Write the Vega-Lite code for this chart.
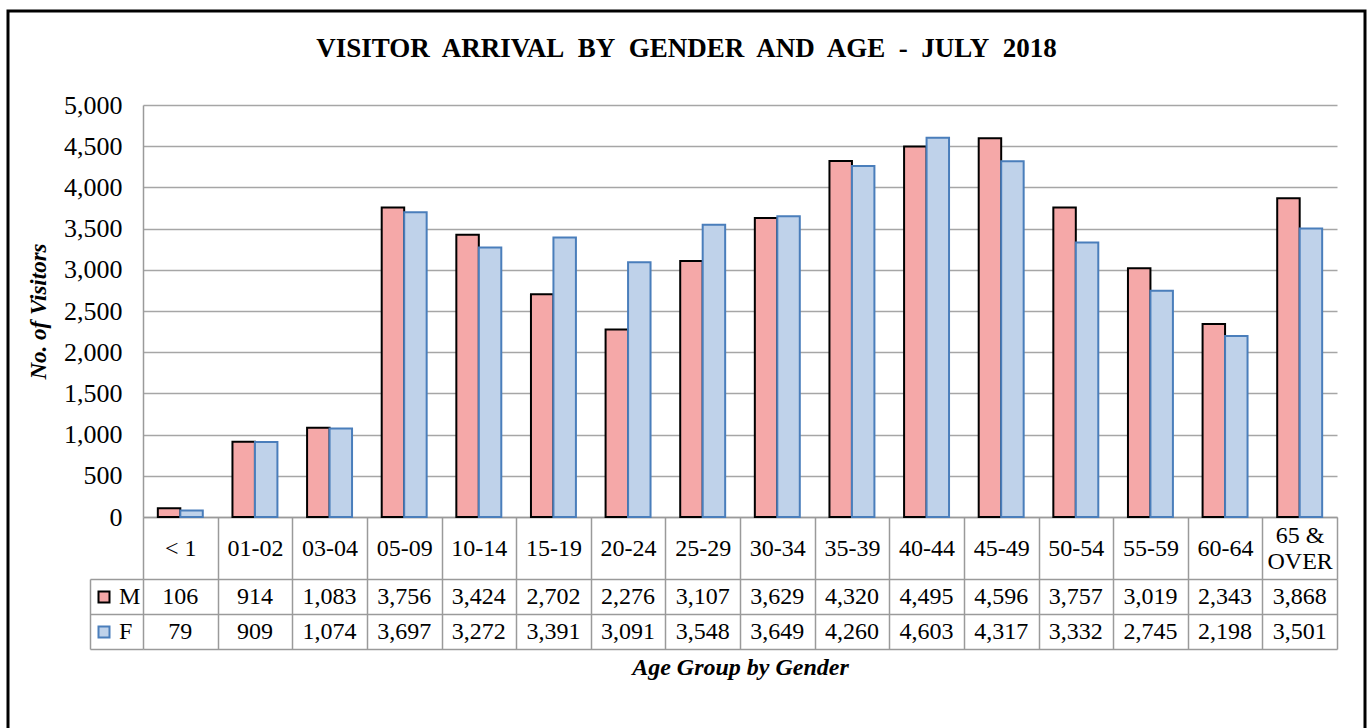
{
  "$schema": "https://vega.github.io/schema/vega-lite/v6.json",
  "autosize": {"type": "none"},
  "padding": {"left": 8, "top": 11, "right": 5, "bottom": 0},
  "width": 1357,
  "height": 720,
  "background": "white",
  "title": {"text": "VISITOR\u00a0 ARRIVAL\u00a0 BY\u00a0 GENDER\u00a0 AND\u00a0 AGE\u00a0 -\u00a0 JULY\u00a0 2018", "font": "Liberation Serif", "fontSize": 27, "fontWeight": "bold", "color": "black", "anchor": "middle", "frame": "group", "offset": -52},
  "config": {
    "font": "Liberation Serif",
    "view": {"stroke": "black", "strokeWidth": 3},
    "axis": {"labelFont": "Liberation Serif", "titleFont": "Liberation Serif", "labelColor": "black", "titleColor": "black"},
    "legend": {"labelFont": "Liberation Serif"}
  },
  "data": {
    "values": [
      {"age": "< 1", "gender": "M", "visitors": 106},
      {"age": "01-02", "gender": "M", "visitors": 914},
      {"age": "03-04", "gender": "M", "visitors": 1083},
      {"age": "05-09", "gender": "M", "visitors": 3756},
      {"age": "10-14", "gender": "M", "visitors": 3424},
      {"age": "15-19", "gender": "M", "visitors": 2702},
      {"age": "20-24", "gender": "M", "visitors": 2276},
      {"age": "25-29", "gender": "M", "visitors": 3107},
      {"age": "30-34", "gender": "M", "visitors": 3629},
      {"age": "35-39", "gender": "M", "visitors": 4320},
      {"age": "40-44", "gender": "M", "visitors": 4495},
      {"age": "45-49", "gender": "M", "visitors": 4596},
      {"age": "50-54", "gender": "M", "visitors": 3757},
      {"age": "55-59", "gender": "M", "visitors": 3019},
      {"age": "60-64", "gender": "M", "visitors": 2343},
      {"age": "65 & OVER", "gender": "M", "visitors": 3868},
      {"age": "< 1", "gender": "F", "visitors": 79},
      {"age": "01-02", "gender": "F", "visitors": 909},
      {"age": "03-04", "gender": "F", "visitors": 1074},
      {"age": "05-09", "gender": "F", "visitors": 3697},
      {"age": "10-14", "gender": "F", "visitors": 3272},
      {"age": "15-19", "gender": "F", "visitors": 3391},
      {"age": "20-24", "gender": "F", "visitors": 3091},
      {"age": "25-29", "gender": "F", "visitors": 3548},
      {"age": "30-34", "gender": "F", "visitors": 3649},
      {"age": "35-39", "gender": "F", "visitors": 4260},
      {"age": "40-44", "gender": "F", "visitors": 4603},
      {"age": "45-49", "gender": "F", "visitors": 4317},
      {"age": "50-54", "gender": "F", "visitors": 3332},
      {"age": "55-59", "gender": "F", "visitors": 2745},
      {"age": "60-64", "gender": "F", "visitors": 2198},
      {"age": "65 & OVER", "gender": "F", "visitors": 3501}
    ]
  },
  "layer": [
    {
      "mark": {"type": "bar", "strokeWidth": 2},
      "encoding": {
        "x": {
          "field": "age", "type": "nominal", "sort": null,
          "scale": {"type": "band", "range": [135, 1329], "paddingInner": 0, "paddingOuter": 0},
          "axis": {
            "orient": "bottom", "offset": -214,
            "title": null, "labelAngle": 0, "labelFontSize": 24,
            "labelBaseline": {"condition": {"test": "datum.value == '65 & OVER'", "value": "line-bottom"}, "value": "middle"},
            "labelPadding": -31, "labelLineHeight": 26,
            "labelExpr": "datum.label == '65 & OVER' ? ['65 &', 'OVER'] : datum.label",
            "domain": true, "domainColor": "#9a9a9a", "domainWidth": 1.5,
            "ticks": true, "tickBand": "extent", "tickSize": 62, "tickColor": "#9a9a9a", "tickWidth": 1.5,
            "grid": false
          }
        },
        "xOffset": {"field": "gender", "sort": ["M", "F"], "scale": {"paddingInner": 0, "paddingOuter": 0.66}},
        "y": {
          "field": "visitors", "type": "quantitative",
          "scale": {"domain": [0, 5000], "range": [506, 94], "nice": false},
          "axis": {
            "orient": "left", "offset": -135,
            "title": "No. of Visitors", "titleFontSize": 23, "titleFontWeight": "bold", "titleFontStyle": "italic", "titlePadding": 13,
            "values": [0, 500, 1000, 1500, 2000, 2500, 3000, 3500, 4000, 4500, 5000],
            "format": ",d", "labelFontSize": 26, "labelPadding": 21,
            "ticks": false, "domain": true, "domainColor": "#9a9a9a", "domainWidth": 1.5,
            "grid": true, "gridColor": "#a6a6a6", "gridWidth": 1.5
          }
        },
        "fill": {
          "field": "gender", "type": "nominal",
          "scale": {"domain": ["M", "F"], "range": ["#f5a8a8", "#bfd2ea"]},
          "legend": {"orient": "none", "legendX": 84, "legendY": 574, "title": null, "symbolType": "square", "symbolSize": 121, "symbolStrokeWidth": 2, "labelFontSize": 24, "labelColor": "black", "rowPadding": 11, "labelOffset": 3, "padding": 0}
        },
        "stroke": {
          "field": "gender", "type": "nominal",
          "scale": {"domain": ["M", "F"], "range": ["#000000", "#4a7ebb"]},
          "legend": {"orient": "none", "legendX": 84, "legendY": 574, "title": null, "symbolType": "square", "symbolSize": 121, "symbolStrokeWidth": 2, "labelFontSize": 24, "labelColor": "black", "rowPadding": 11, "labelOffset": 3, "padding": 0}
        }
      }
    },
    {
      "mark": {"type": "text", "font": "Liberation Serif", "fontSize": 24, "color": "black", "baseline": "middle"},
      "encoding": {
        "x": {
          "field": "age", "type": "nominal", "sort": null,
          "axis": {
            "orient": "bottom", "offset": -82, "labels": false, "domain": false, "grid": false,
            "ticks": true, "tickBand": "extent", "tickSize": -70, "tickColor": "#9a9a9a", "tickWidth": 1.5,
            "title": "Age Group by Gender", "titleFontSize": 24, "titleFontWeight": "bold", "titleFontStyle": "italic", "titlePadding": 6
          }
        },
        "y": {
          "field": "gender", "type": "nominal", "sort": ["M", "F"],
          "scale": {"type": "band", "range": [568, 638], "paddingInner": 0, "paddingOuter": 0},
          "axis": {
            "orient": "left", "offset": -82, "labels": false, "title": null,
            "ticks": true, "tickBand": "extent", "tickSize": -53, "tickColor": "#9a9a9a", "tickWidth": 1.5,
            "domain": true, "domainColor": "#9a9a9a", "domainWidth": 1.5,
            "grid": true, "gridColor": "#9a9a9a", "gridWidth": 1.5
          }
        },
        "text": {"field": "visitors", "type": "quantitative", "format": ",d"}
      }
    }
  ],
  "resolve": {"scale": {"y": "independent"}, "axis": {"x": "independent", "y": "independent"}}
}
